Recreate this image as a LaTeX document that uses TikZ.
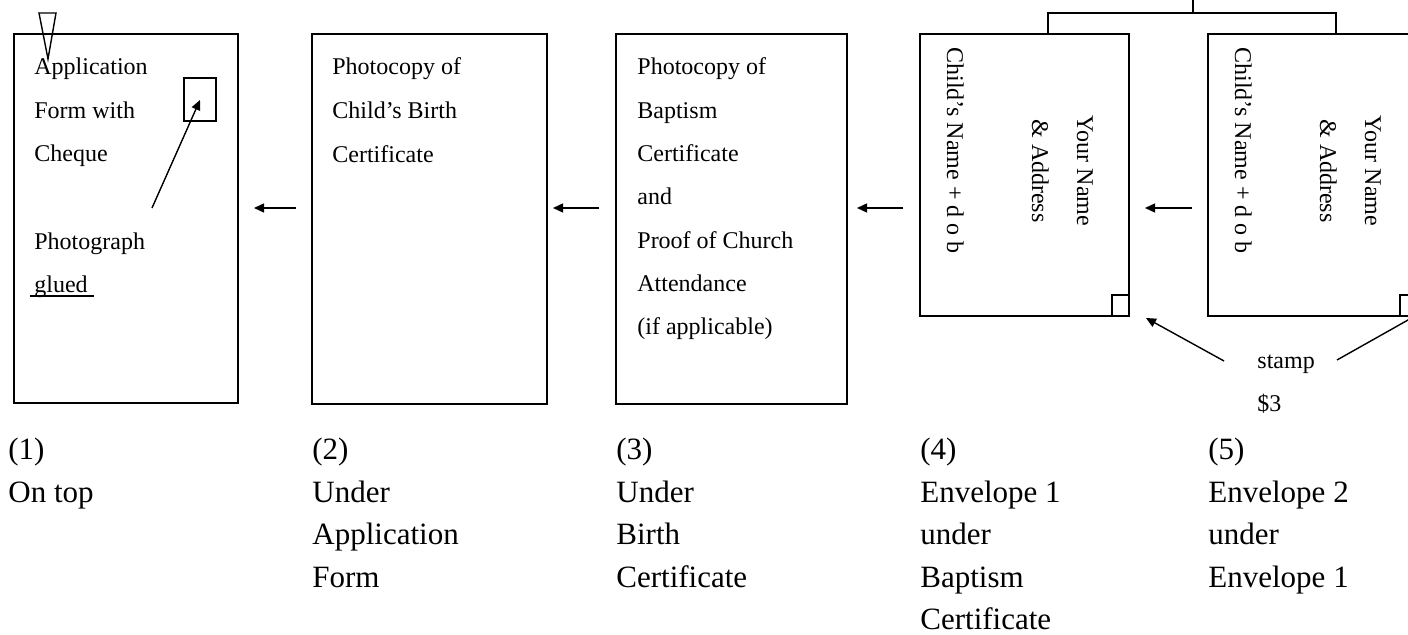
\documentclass[tikz,border=0pt]{standalone}
\usepackage{fontspec}
\setmainfont{Liberation Serif}
\usetikzlibrary{arrows.meta,calc}
\begin{document}
\begin{tikzpicture}[x=0.5pt,y=-0.5pt,
  paper/.style={draw, line width=1pt, inner sep=0pt, outer sep=0pt, anchor=north west},
  smallbox/.style={draw, line width=0.6pt, inner sep=0pt, outer sep=0pt},
  txt/.style={anchor=base west, inner sep=0pt, font=\fontsize{12pt}{14pt}\selectfont},
  ctxt/.style={anchor=base, inner sep=0pt, font=\fontsize{12pt}{14pt}\selectfont},
  lab/.style={anchor=base west, inner sep=0pt, font=\fontsize{15.5pt}{18pt}\selectfont},
  arr/.style={line width=0.7pt, -{Triangle[length=5pt,width=4.5pt]}},
  thinline/.style={line width=0.7pt}]
\useasboundingbox (0,0) rectangle (1408,635);
\clip (0,0) rectangle (1408,635);

% papers
\node[paper, minimum width=112pt, minimum height=184.5pt] (p1) at (14,34) {};
\node[paper, minimum width=117.5pt, minimum height=185pt] (p2) at (312,34) {};
\node[paper, minimum width=115.5pt, minimum height=185pt] (p3) at (616,34) {};
\node[paper, minimum width=104.5pt, minimum height=141pt] (e1) at (920,34) {};
\node[paper, minimum width=104.5pt, minimum height=141pt] (e2) at (1208,34) {};

% stamp squares
\node[smallbox, minimum width=8.5pt, minimum height=10.5pt, anchor=south east] (s1) at (e1.south east) {};
\node[smallbox, minimum width=8.5pt, minimum height=10.5pt, anchor=south east] (s2) at (e2.south east) {};

% photo box and marker
\node[smallbox, minimum width=16pt, minimum height=21.5pt, anchor=north west] (ph) at (184,78) {};
\draw[thinline] (39,13) -- (56,13) -- (48,59) -- cycle;

% bracket over envelopes
\coordinate (bl) at (1048,34);
\coordinate (br) at (1336,34);
\coordinate (stem) at (1193,-10);
\draw[thinline] (bl) -- (1048,13) -- (1336,13) -- (br);
\draw[thinline] (1193,13) -- (stem);

% texts in paper 1
\node[txt] (t1a) at (34,75) {Application};
\node[txt] (t1b) at (34,119) {Form with};
\node[txt] (t1c) at (34,162) {Cheque};
\node[txt] (t1d) at (34,250) {Photograph};
\node[txt] (t1e) at (34,293) {glued};
\draw[line width=0.7pt] (30,296) -- (94,296);
\coordinate (phs) at (152,208);
\coordinate (pht) at (200,100);
\draw[arr] (phs) -- (pht);

% texts in paper 2
\node[txt] (t2a) at (332,75) {Photocopy of};
\node[txt] (t2b) at (332,119) {Child's Birth};
\node[txt] (t2c) at (332,163) {Certificate};

% texts in paper 3
\node[txt] (t3a) at (637,75) {Photocopy of};
\node[txt] (t3b) at (637,118.3) {Baptism};
\node[txt] (t3c) at (637,161.6) {Certificate};
\node[txt] (t3d) at (637,205) {and};
\node[txt] (t3e) at (637,248.3) {Proof of Church};
\node[txt] (t3f) at (637,291.6) {Attendance};
\node[txt] (t3g) at (637,335) {(if applicable)};

% envelope texts
\node[txt, rotate=-90] (e1c) at (947,47) {Child's Name + d o b};
\node[ctxt, rotate=-90] (e1y) at (1077,171) {Your Name};
\node[ctxt, rotate=-90] (e1a) at (1032,171) {\& Address};
\node[txt, rotate=-90] (e2c) at (1235,47) {Child's Name + d o b};
\node[ctxt, rotate=-90] (e2y) at (1365,171) {Your Name};
\node[ctxt, rotate=-90] (e2a) at (1320,171) {\& Address};

% arrows between papers
\coordinate (a1s) at (296,208); \coordinate (a1t) at (254,208);
\coordinate (a2s) at (599,208); \coordinate (a2t) at (553,208);
\coordinate (a3s) at (903,208); \coordinate (a3t) at (857,208);
\coordinate (a4s) at (1192,208); \coordinate (a4t) at (1145,208);
\draw[arr] (a1s) -- (a1t);
\draw[arr] (a2s) -- (a2t);
\draw[arr] (a3s) -- (a3t);
\draw[arr] (a4s) -- (a4t);

% stamp label and arrows
\node[txt] (st) at (1257,369) {stamp};
\node[txt] (sp) at (1257,412) {\$3};
\coordinate (sa) at (1224,361); \coordinate (sat) at (1146,318);
\coordinate (sb) at (1337,360); \coordinate (sbt) at (1424,311);
\draw[arr] (sa) -- (sat);
\draw[arr] (sb) -- (sbt);

% bottom labels
\node[lab] (l1a) at (8,460) {(1)};
\node[lab] (l1b) at (8,502.5) {On top};
\node[lab] (l2a) at (312,460) {(2)};
\node[lab] (l2b) at (312,502.5) {Under};
\node[lab] (l2c) at (312,545) {Application};
\node[lab] (l2d) at (312,587.5) {Form};
\node[lab] (l3a) at (616,460) {(3)};
\node[lab] (l3b) at (616,502.5) {Under};
\node[lab] (l3c) at (616,545) {Birth};
\node[lab] (l3d) at (616,587.5) {Certificate};
\node[lab] (l4a) at (920,460) {(4)};
\node[lab] (l4b) at (920,502.5) {Envelope 1};
\node[lab] (l4c) at (920,545) {under};
\node[lab] (l4d) at (920,587.5) {Baptism};
\node[lab] (l4e) at (920,630) {Certificate};
\node[lab] (l5a) at (1208,460) {(5)};
\node[lab] (l5b) at (1208,502.5) {Envelope 2};
\node[lab] (l5c) at (1208,545) {under};
\node[lab] (l5d) at (1208,587.5) {Envelope 1};
\end{tikzpicture}
\end{document}
